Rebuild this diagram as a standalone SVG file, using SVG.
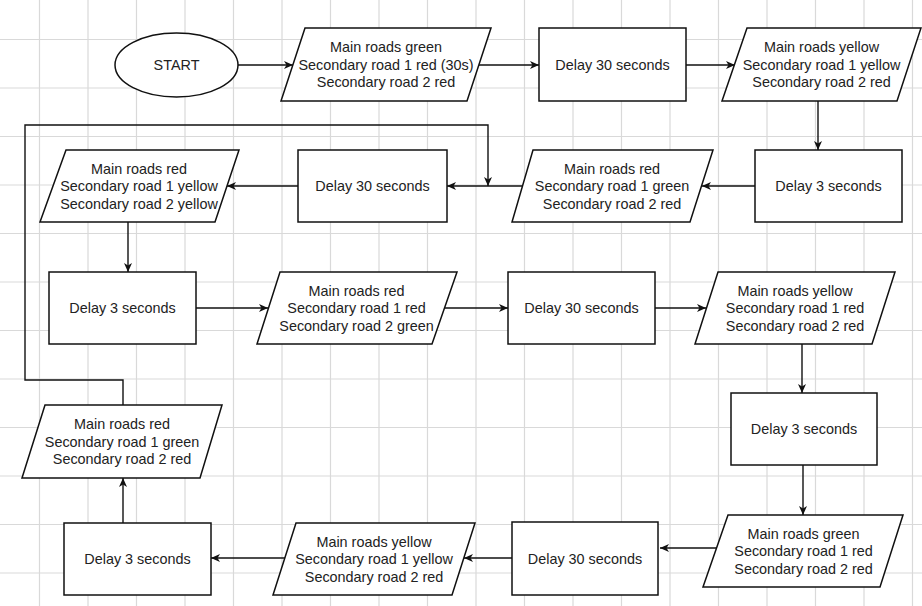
<svg xmlns="http://www.w3.org/2000/svg" width="922" height="606" viewBox="0 0 922 606">
<defs>
<style>
.n{fill:#ffffff;stroke:#111;stroke-width:1.5}
.t{font-family:"Liberation Sans",Arial,sans-serif;font-size:14.4px;fill:#222;text-anchor:middle}
.c{fill:none;stroke:#111;stroke-width:1.4}
.g{fill:none;stroke:#d9d9d9;stroke-width:1.2}
</style>
<marker id="ah" markerWidth="10" markerHeight="10" refX="9" refY="5" orient="auto" markerUnits="userSpaceOnUse">
<path d="M0,1 L9,5 L0,9 L2.5,5 z" fill="#111"/>
</marker>
</defs>
<rect width="922" height="606" fill="#ffffff"/>
<g id="grid">
<path class="g" d="M39.5,0V606M88,0V606M136.5,0V606M185,0V606M233.5,0V606M282,0V606M330.5,0V606M379,0V606M427.5,0V606M476,0V606M524.5,0V606M573,0V606M621.5,0V606M670,0V606M718.5,0V606M767,0V606M815.5,0V606M864,0V606M912.5,0V606"/>
<path class="g" d="M0,39.5H922M0,88H922M0,136.5H922M0,185H922M0,233.5H922M0,282H922M0,330.5H922M0,379H922M0,427.5H922M0,476H922M0,524.5H922M0,573H922"/>
</g>
<g id="connectors">
<path class="c" marker-end="url(#ah)" d="M238,65H293"/>
<path class="c" marker-end="url(#ah)" d="M479,65H539"/>
<path class="c" marker-end="url(#ah)" d="M686,65H735"/>
<path class="c" marker-end="url(#ah)" d="M818,101V150"/>
<path class="c" marker-end="url(#ah)" d="M755,186H702"/>
<path class="c" marker-end="url(#ah)" d="M522,186H447"/>
<path class="c" marker-end="url(#ah)" d="M298,186H227"/>
<path class="c" marker-end="url(#ah)" d="M128,222V272"/>
<path class="c" marker-end="url(#ah)" d="M196,308H268"/>
<path class="c" marker-end="url(#ah)" d="M445,308H508"/>
<path class="c" marker-end="url(#ah)" d="M655,308H706"/>
<path class="c" marker-end="url(#ah)" d="M802,344V393"/>
<path class="c" marker-end="url(#ah)" d="M803,465V515"/>
<path class="c" marker-end="url(#ah)" d="M716,548H660"/>
<path class="c" marker-end="url(#ah)" d="M512,558H464"/>
<path class="c" marker-end="url(#ah)" d="M285,558H211"/>
<path class="c" marker-end="url(#ah)" d="M123,523V478"/>
<path class="c" marker-end="url(#ah)" d="M123,405V380H25V125H488V186"/>
</g>
<g id="start">
<ellipse class="n" cx="176.5" cy="65" rx="61.5" ry="32"/>
<text class="t" x="176.5" y="70">START</text>
</g>
<g id="p1">
<polygon class="n" points="305,28 491,28 467,101 281,101"/>
<text class="t" x="386" y="52">Main roads green</text>
<text class="t" x="386" y="69.5">Secondary road 1 red (30s)</text>
<text class="t" x="386" y="87">Secondary road 2 red</text>
</g>
<g id="d1">
<rect class="n" x="539" y="28" width="147" height="73"/>
<text class="t" x="612.5" y="69.5">Delay 30 seconds</text>
</g>
<g id="p2">
<polygon class="n" points="747,28 921,28 897,101 722,101"/>
<text class="t" x="821.5" y="52">Main roads yellow</text>
<text class="t" x="821.5" y="69.5">Secondary road 1 yellow</text>
<text class="t" x="821.5" y="87">Secondary road 2 red</text>
</g>
<g id="d2">
<rect class="n" x="755" y="150" width="147" height="72"/>
<text class="t" x="828.5" y="191">Delay 3 seconds</text>
</g>
<g id="p3">
<polygon class="n" points="533,150 713,150 690,222 512,222"/>
<text class="t" x="612" y="173.5">Main roads red</text>
<text class="t" x="612" y="191">Secondary road 1 green</text>
<text class="t" x="612" y="208.5">Secondary road 2 red</text>
</g>
<g id="d3">
<rect class="n" x="298" y="150" width="149" height="72"/>
<text class="t" x="372.5" y="191">Delay 30 seconds</text>
</g>
<g id="p4">
<polygon class="n" points="66,150 239,150 215,222 40,222"/>
<text class="t" x="139" y="173.5">Main roads red</text>
<text class="t" x="139" y="191">Secondary road 1 yellow</text>
<text class="t" x="139" y="208.5">Secondary road 2 yellow</text>
</g>
<g id="d4">
<rect class="n" x="49" y="272" width="147" height="72"/>
<text class="t" x="122.5" y="313">Delay 3 seconds</text>
</g>
<g id="p5">
<polygon class="n" points="280,272 457,272 432,344 257,344"/>
<text class="t" x="356.5" y="295.5">Main roads red</text>
<text class="t" x="356.5" y="313">Secondary road 1 red</text>
<text class="t" x="356.5" y="330.5">Secondary road 2 green</text>
</g>
<g id="d5">
<rect class="n" x="508" y="272" width="147" height="72"/>
<text class="t" x="581.5" y="313">Delay 30 seconds</text>
</g>
<g id="p6">
<polygon class="n" points="718,272 895,272 872,344 695,344"/>
<text class="t" x="795" y="295.5">Main roads yellow</text>
<text class="t" x="795" y="313">Secondary road 1 red</text>
<text class="t" x="795" y="330.5">Secondary road 2 red</text>
</g>
<g id="d6">
<rect class="n" x="731" y="393" width="146" height="72"/>
<text class="t" x="804" y="434">Delay 3 seconds</text>
</g>
<g id="p7">
<polygon class="n" points="728,515 903,515 880,587 703,587"/>
<text class="t" x="803.5" y="538.5">Main roads green</text>
<text class="t" x="803.5" y="556">Secondary road 1 red</text>
<text class="t" x="803.5" y="573.5">Secondary road 2 red</text>
</g>
<g id="d7">
<rect class="n" x="512" y="522" width="146" height="73"/>
<text class="t" x="585" y="563.5">Delay 30 seconds</text>
</g>
<g id="p8">
<polygon class="n" points="296,523 475,523 452,595 273,595"/>
<text class="t" x="374" y="546.5">Main roads yellow</text>
<text class="t" x="374" y="564">Secondary road 1 yellow</text>
<text class="t" x="374" y="581.5">Secondary road 2 red</text>
</g>
<g id="d8">
<rect class="n" x="64" y="523" width="147" height="72"/>
<text class="t" x="137.5" y="564">Delay 3 seconds</text>
</g>
<g id="p9">
<polygon class="n" points="45,405 222,405 200,478 22,478"/>
<text class="t" x="122" y="429">Main roads red</text>
<text class="t" x="122" y="446.5">Secondary road 1 green</text>
<text class="t" x="122" y="464">Secondary road 2 red</text>
</g>
</svg>
